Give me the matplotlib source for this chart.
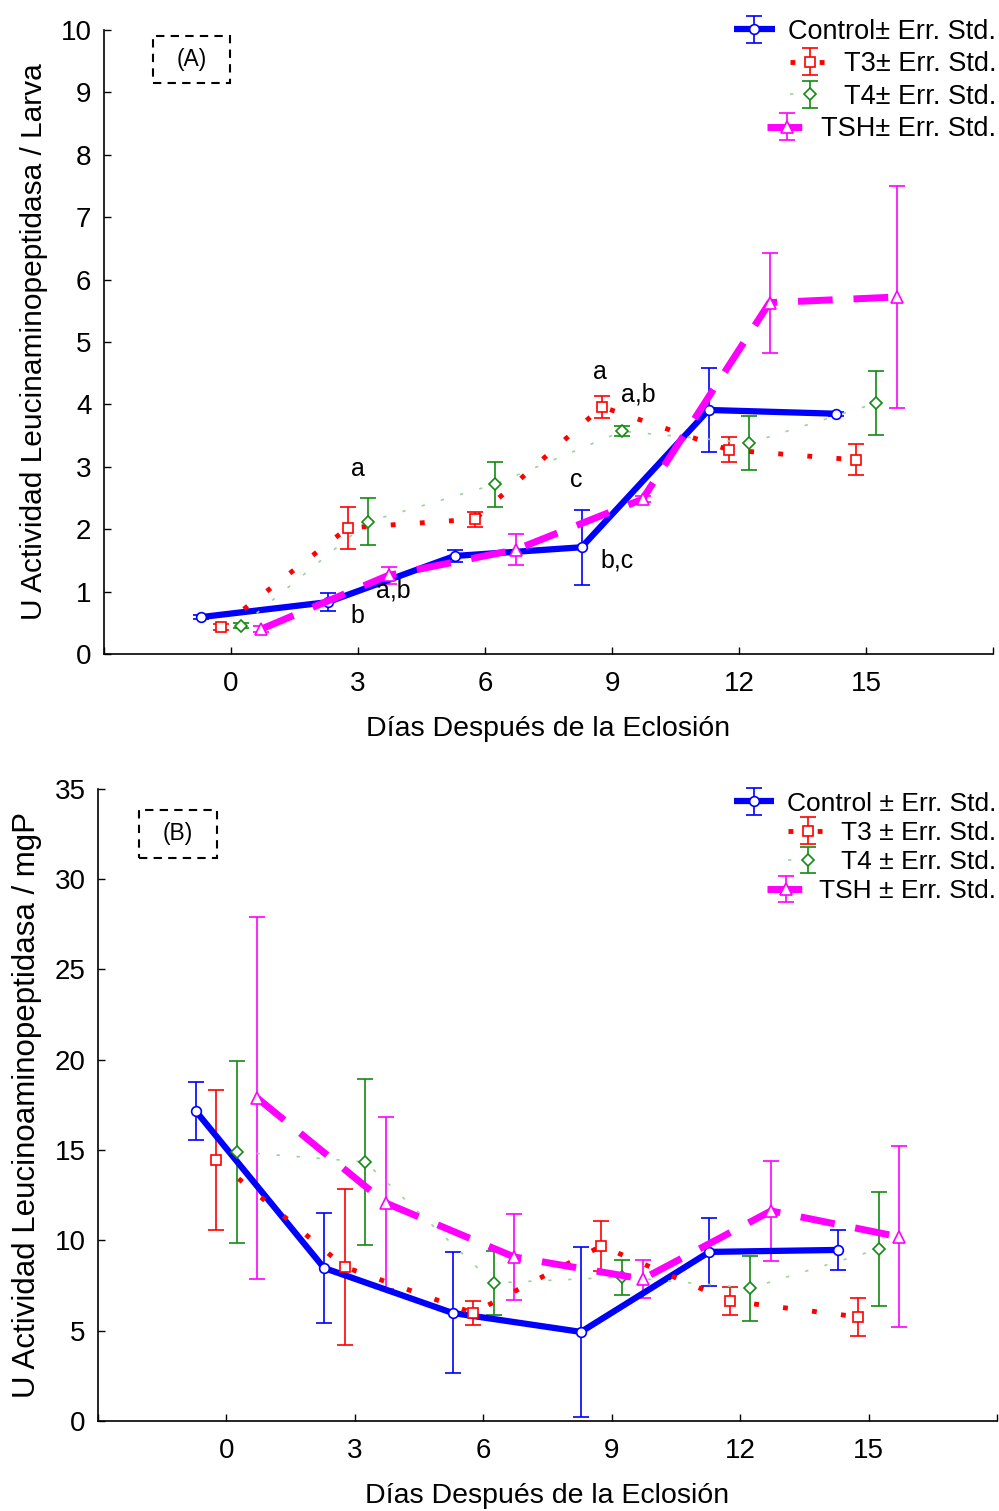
import numpy as np
import matplotlib
matplotlib.use("Agg")
import matplotlib.pyplot as plt
from matplotlib.patches import Rectangle

plt.rcParams['font.family'] = ['Liberation Sans', 'DejaVu Sans']

days = [0, 3, 6, 9, 12, 15]
offsets = [-0.72, -0.24, 0.24, 0.72]
xticks = [-3, 0, 3, 6, 9, 12, 15, 18]
xticklabels = ['', '0', '3', '6', '9', '12', '15', '']

# (A) U actividad / larva
ctrl_a = [0.59, 0.83, 1.57, 1.71, 3.91, 3.85]
ctrl_a_err = [0.03, 0.14, 0.10, 0.60, 0.67, 0.03]
t3_a = [0.43, 2.02, 2.16, 3.96, 3.27, 3.11]
t3_a_err = [0.05, 0.34, 0.12, 0.18, 0.20, 0.25]
t4_a = [0.45, 2.12, 2.72, 3.57, 3.38, 4.02]
t4_a_err = [0.04, 0.38, 0.36, 0.08, 0.43, 0.51]
tsh_a = [0.40, 1.26, 1.67, 2.48, 5.63, 5.72]
tsh_a_err = [0.05, 0.14, 0.25, 0.05, 0.80, 1.78]
labels_a = ['Control\u00b1 Err. Std.', 'T3\u00b1 Err. Std.', 'T4\u00b1 Err. Std.', 'TSH\u00b1 Err. Std.']
# letras de significancia: (x, y, texto)
letters_a = [(2.99, 2.96, 'a'), (3.84, 1.01, 'a,b'), (2.99, 0.61, 'b'),
             (8.71, 4.52, 'a'), (9.61, 4.15, 'a,b'), (8.15, 2.79, 'c'), (9.11, 1.49, 'b,c')]

# (B) U actividad / mgP
ctrl_b = [17.17, 8.47, 5.98, 4.93, 9.36, 9.47]
ctrl_b_err = [1.60, 3.05, 3.35, 4.70, 1.90, 1.13]
t3_b = [14.45, 8.53, 5.98, 9.69, 6.64, 5.76]
t3_b_err = [3.90, 4.30, 0.65, 1.38, 0.80, 1.03]
t4_b = [14.90, 14.34, 7.64, 7.97, 7.36, 9.52]
t4_b_err = [5.03, 4.57, 1.77, 0.97, 1.80, 3.18]
tsh_b = [17.88, 12.07, 9.08, 7.86, 11.63, 10.19]
tsh_b_err = [10.0, 4.76, 2.38, 1.05, 2.77, 5.01]
labels_b = ['Control \u00b1 Err. Std.', 'T3 \u00b1 Err. Std.', 'T4 \u00b1 Err. Std.', 'TSH \u00b1 Err. Std.']

styles = [
    dict(color='#0000ff', ecolor='#0000ff', mec='#0000ff', marker='o', ls='-', lw=4.5, ms=7),
    dict(color='#ff0000', ecolor='#ff0000', mec='#ff0000', marker='s', ls=(0, (1, 5)), lw=3.5, ms=7),
    dict(color='#9ad49a', ecolor='#138a13', mec='#138a13', marker='D', ls=(0, (2, 10)), lw=1.2, ms=6),
    dict(color='#ff00ff', ecolor='#ff00ff', mec='#ff00ff', marker='^', ls=(0, (5, 3)), lw=5, ms=8),
]


def draw_panel(ax, series, errs, labels, ylim, yticks, ylabel, ylabel_size, tag, tagbox,
               legend_y, legend_size, legend_space):
    handles = []
    for k, (vals, err, st) in enumerate(zip(series, errs, styles)):
        x = np.array(days) + offsets[k]
        h = ax.errorbar(x, vals, yerr=err, color=st['color'], ecolor=st['ecolor'],
                        marker=st['marker'], mfc='white', mec=st['mec'], ms=st['ms'], mew=1.2,
                        linestyle=st['ls'], lw=st['lw'], elinewidth=1.2, capsize=6, capthick=1.2,
                        dash_capstyle='butt', solid_capstyle='butt', label=labels[k])
        handles.append(h)
    ax.set_xlim(-3, 18)
    ax.set_ylim(*ylim)
    ax.set_xticks(xticks)
    ax.set_xticklabels(xticklabels)
    ax.set_yticks(yticks)
    ax.tick_params(direction='in', length=5, labelsize=20, width=1)
    ax.tick_params(axis='x', pad=12)
    ax.tick_params(axis='y', pad=9)
    for s in ['top', 'right']:
        ax.spines[s].set_visible(False)
    for s in ['left', 'bottom']:
        ax.spines[s].set_linewidth(1.2)
    ax.set_xlabel('D\u00edas Despu\u00e9s de la Eclosi\u00f3n', fontsize=20.5, labelpad=14)
    ax.set_ylabel(ylabel, fontsize=ylabel_size, labelpad=9)

    x0, y0, x1, y1 = tagbox
    ax.add_patch(Rectangle((x0, y0), x1 - x0, y1 - y0, transform=ax.transAxes, fill=False,
                           ec='black', ls=(0, (4, 3)), lw=1.5, clip_on=False))
    ax.text((x0 + x1) / 2, (y0 + y1) / 2, tag, transform=ax.transAxes, ha='center', va='center',
            fontsize=16.5)

    leg = ax.legend(handles=handles, loc='upper right', bbox_to_anchor=(1.0, legend_y),
                    bbox_transform=ax.figure.transFigure, frameon=False, fontsize=legend_size,
                    handlelength=1.5, handletextpad=0.5, labelspacing=legend_space, borderpad=0.1,
                    borderaxespad=0)
    for col in leg._legend_handle_box.get_children():
        col.align = 'right'
    return leg


fig = plt.figure(figsize=(9.99, 15.11), dpi=100)
ax_a = fig.add_axes([0.1041, 0.5672, 0.890, 0.4130])
ax_b = fig.add_axes([0.0981, 0.0596, 0.900, 0.4183])

draw_panel(ax_a, [ctrl_a, t3_a, t4_a, tsh_a], [ctrl_a_err, t3_a_err, t4_a_err, tsh_a_err], labels_a,
           (0, 10), range(0, 11), 'U Actividad Leucinaminopeptidasa / Larva', 21.5, '(A)',
           (0.0551, 0.915, 0.1417, 0.990), 1 - 16 / 1511, 19.5, 0.24)
for x, y, t in letters_a:
    ax_a.text(x, y, t, ha='center', va='center', fontsize=18)

draw_panel(ax_b, [ctrl_b, t3_b, t4_b, tsh_b], [ctrl_b_err, t3_b_err, t4_b_err, tsh_b_err], labels_b,
           (0, 35), range(0, 36, 5), 'U Actividad Leucinoaminopeptidasa / mgP', 22.5, '(B)',
           (0.0456, 0.8908, 0.1324, 0.9668), 1 - 789 / 1511, 19, 0.2)

fig.savefig('out.png', dpi=100)
